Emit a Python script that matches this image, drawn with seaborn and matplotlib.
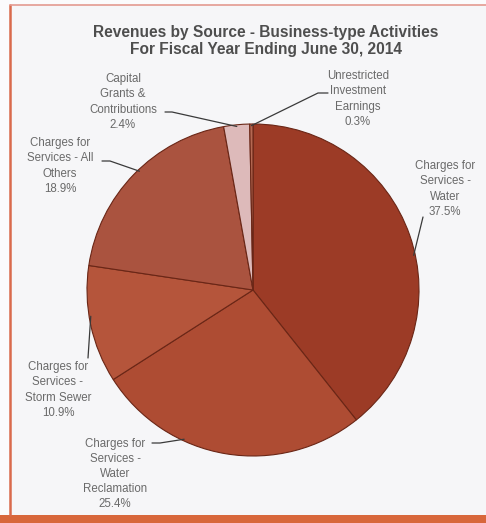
import matplotlib
matplotlib.use("Agg")
import matplotlib.pyplot as plt
import seaborn as sns
import numpy as np
from matplotlib.patches import Rectangle
from matplotlib.lines import Line2D

# ---- data ----
categories = [
    "Charges for\nServices -\nWater",
    "Charges for\nServices -\nWater\nReclamation",
    "Charges for\nServices -\nStorm Sewer",
    "Charges for\nServices - All\nOthers",
    "Capital\nGrants &\nContributions",
    "Unrestricted\nInvestment\nEarnings",
]
shares = [37.5, 25.4, 10.9, 18.9, 2.4, 0.3]
slice_colors = ["#9C3B26", "#AE4C33", "#B5553B", "#AA533F", "#DDBABA", "#B56852"]

title_lines = ["Revenues by Source - Business-type Activities",
               "For Fiscal Year Ending June 30, 2014"]

# ---- layout (pixels, origin top-left) ----
W, H = 486, 523
CX, CY, R = 253, 290, 166

# label centres and leader-line paths (text side) in pixels
label_xy = [(445, 189), (115, 474), (58, 390), (60, 166), (123, 102), (358, 99)]
leader_start = [
    [(423, 217)],
    [(152, 443), (160, 443)],
    [(88, 358)],
    [(102, 161), (110, 161)],
    [(165, 112), (172, 112)],
    [(328, 93), (318, 93)],
]
# where along each wedge (0 = start, 1 = end) the leader touches the rim
leader_frac = [0.55, 0.66, 0.57, 0.53, 0.5, 0.5]


def px2data(px, py):
    return (px - CX) / R, (CY - py) / R


sns.set_theme(style="white")
plt.rcParams["font.family"] = ["Liberation Sans", "DejaVu Sans"]

fig = plt.figure(figsize=(W / 100, H / 100), dpi=100)
fig.patch.set_facecolor("#FBFBFC")

# panel frame
fig.patches.append(Rectangle((10 / W, 1 - 515 / H), (W - 10) / W, 510 / H,
                             transform=fig.transFigure, facecolor="#F6F6F8",
                             edgecolor="none", zorder=0))
fig.lines.append(Line2D([10 / W, 10 / W], [1 - 5 / H, 1 - 515 / H],
                        transform=fig.transFigure, color="#D96A4C", lw=1.8))
fig.lines.append(Line2D([10 / W, 1], [1 - 5 / H, 1 - 5 / H],
                        transform=fig.transFigure, color="#E39A90", lw=1.2))
fig.patches.append(Rectangle((0, 0), 1, (H - 515) / H, transform=fig.transFigure,
                             facecolor="#D8673B", edgecolor="none", zorder=1))

ax = fig.add_axes([(CX - R) / W, (H - CY - R) / H, 2 * R / W, 2 * R / H])
ax.set_zorder(3)
ax.patch.set_visible(False)
wedges, _ = ax.pie(shares, colors=slice_colors, startangle=90, counterclock=False,
                   wedgeprops=dict(edgecolor="#6A2616", linewidth=0.8))
ax.set_xlim(-1, 1)
ax.set_ylim(-1, 1)
ax.set_aspect("auto")
ax.axis("off")

label_color = "#6A6A6A"
for w, name, val, (lx, ly), path, f in zip(wedges, categories, shares,
                                            label_xy, leader_start, leader_frac):
    # clockwise wedges run from theta2 down to theta1
    ang = np.deg2rad(w.theta2 - f * (w.theta2 - w.theta1))
    ex, ey = np.cos(ang) * 0.99, np.sin(ang) * 0.99
    pts = [px2data(*p) for p in path] + [(ex, ey)]
    xs, ys = zip(*pts)
    ax.plot(xs, ys, color="#3A3A3A", lw=0.9, clip_on=False, zorder=5)
    tx, ty = px2data(lx, ly)
    ax.text(tx, ty, f"{name}\n{val:.1f}%", ha="center", va="center",
            fontsize=8.3, color=label_color, linespacing=1.36, clip_on=False)

fig.text(266 / W, 1 - 41 / H, "\n".join(title_lines), ha="center", va="center",
         fontsize=11.2, fontweight="bold", color="#4E4E4E", linespacing=1.15,
         zorder=4)

fig.savefig("out.png", dpi=100)
